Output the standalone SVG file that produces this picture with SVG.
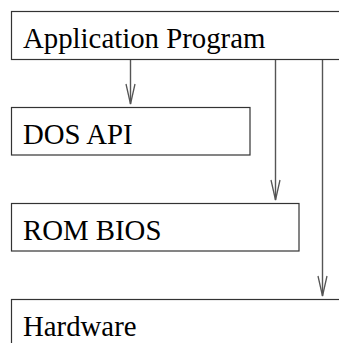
<svg xmlns="http://www.w3.org/2000/svg" width="339" height="343" viewBox="0 0 339 343">
<style>
.box{fill:#fff;stroke:#333;stroke-width:1.2}
.conn{stroke:#555;stroke-width:1.4;fill:none}
</style>
<defs>
<marker id="ah" markerUnits="userSpaceOnUse" markerWidth="22" markerHeight="12" viewBox="-1 -1 22 12" refX="20" refY="4.5" orient="auto">
<path d="M0,0 L20,4.5 L0,9" fill="none" stroke="#555" stroke-width="1.3"/>
</marker>
</defs>
<rect width="339" height="343" fill="#fff"/>
<g id="connectors">
<line class="conn" x1="130.5" y1="60" x2="130.5" y2="104" marker-end="url(#ah)"/>
<line class="conn" x1="275.5" y1="60" x2="275.5" y2="200" marker-end="url(#ah)"/>
<line class="conn" x1="322.5" y1="60" x2="322.5" y2="296" marker-end="url(#ah)"/>
</g>
<g id="labels" font-family="Liberation Serif, serif" font-size="28.8" fill="#000">
<g id="app">
<rect class="box" x="11.5" y="11.5" width="340" height="48"/>
<text x="23" y="48">Application Program</text>
</g>
<g id="dos">
<rect class="box" x="11.5" y="107.5" width="238.5" height="47.5"/>
<text x="23" y="144">DOS API</text>
</g>
<g id="rom">
<rect class="box" x="11.5" y="203.5" width="287.5" height="47.5"/>
<text x="23" y="240">ROM BIOS</text>
</g>
<g id="hardware">
<rect class="box" x="11.5" y="299.5" width="340" height="60"/>
<text x="23" y="336">Hardware</text>
</g>
</g>
</svg>
